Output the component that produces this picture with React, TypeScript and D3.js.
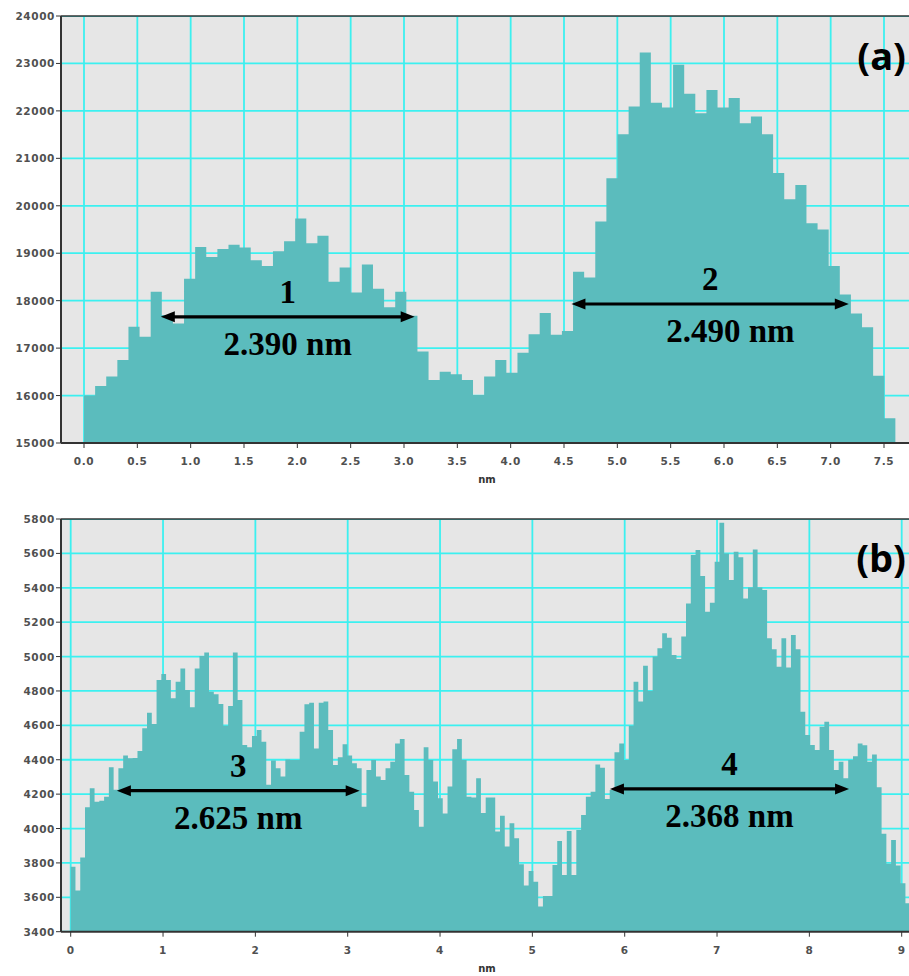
import React from "react";
import * as d3 from "d3";

// (a) line profile, one value per bin of STEP_A nm
const STEP_A = 0.1042;
const profileA = [
  16000, 16200, 16400, 16750, 17450, 17240, 18190, 17700, 17520, 18460,
  19130, 18920, 19090, 19180, 19120, 18850, 18730, 19040, 19250, 19730,
  19210, 19370, 18400, 18700, 18170, 18760, 18250, 17860, 18190, 17680,
  16930, 16330, 16500, 16450, 16330, 16010, 16400, 16750, 16480, 16900,
  17290, 17740, 17280, 17360, 18610, 18490, 19670, 20580, 21510, 22090,
  23230, 22170, 22070, 22970, 22360, 21950, 22440, 22070, 22270, 21740,
  21880, 21510, 20690, 20140, 20440, 19630, 19500, 18730, 18130, 17730,
  17440, 16420, 15520,
];

// (b) line profile, one value per bin of STEP_B nm
const STEP_B = 0.05166;
const profileB = [
  3778, 3639, 3831, 4123, 4234, 4156, 4162, 4185, 4356, 4225,
  4350, 4424, 4408, 4410, 4451, 4583, 4674, 4608, 4864, 4899,
  4864, 4757, 4854, 4930, 4806, 4705, 4930, 5003, 5023, 4796,
  4781, 4724, 4597, 4713, 5023, 4748, 4486, 4472, 4538, 4573,
  4505, 4255, 4395, 4350, 4302, 4402, 4398, 4398, 4563, 4722,
  4732, 4466, 4732, 4738, 4573, 4370, 4414, 4490, 4424, 4379,
  4350, 4127, 4340, 4398, 4302, 4282, 4350, 4389, 4495, 4521,
  4311, 4214, 4108, 4011, 4472, 4398, 4273, 4176, 4088, 4244,
  4461, 4521, 4398, 4185, 4180, 4292, 4090, 4180, 4180, 3982,
  4075, 3895, 4030, 3943, 3792, 3668, 3753, 3691, 3546, 3608,
  3608, 3788, 3928, 3730, 3986, 3730, 3992, 4079, 4185, 4214,
  4373, 4354, 4172, 4224, 4443, 4495, 4399, 4598, 4854, 4738,
  4947, 4800, 5000, 5048, 5135, 5110, 5009, 4986, 5116, 5309,
  5590, 5619, 5468, 5261, 5313, 5551, 5778, 5600, 5445, 5610,
  5577, 5338, 5402, 5623, 5402, 5387, 5106, 5042, 4941, 5106,
  4937, 5125, 5042, 4679, 4544, 4486, 4457, 4592, 4621, 4457,
  4340, 4389, 4292, 4399, 4420, 4495, 4485, 4389, 4431, 4240,
  3970, 3795, 3933, 3785, 3682, 3565, 3507,
];

const xTicksA = [0, 0.5, 1, 1.5, 2, 2.5, 3, 3.5, 4, 4.5, 5, 5.5, 6, 6.5, 7, 7.5];
const yTicksA = [15000, 16000, 17000, 18000, 19000, 20000, 21000, 22000, 23000, 24000];
const xTicksB = [0, 1, 2, 3, 4, 5, 6, 7, 8, 9];
const yTicksB = [3400, 3600, 3800, 4000, 4200, 4400, 4600, 4800, 5000, 5200, 5400, 5600, 5800];

// measured widths: arrow from/to in nm, level in counts
const spansA = [
  { num: "1", text: "2.390 nm", from: 0.72, to: 3.1, level: 17660, shift: 0 },
  { num: "2", text: "2.490 nm", from: 4.57, to: 7.17, level: 17930, shift: 0.19 },
];
const spansB = [
  { num: "3", text: "2.625 nm", from: 0.5, to: 3.13, level: 4220, shift: 0 },
  { num: "4", text: "2.368 nm", from: 5.84, to: 8.43, level: 4230, shift: 0 },
];

const BAR = "#5bbcbd";
const GRID = "#3cf0f0";
const BG = "#e6e6e6";
const AXIS = "#333";
const LEFT = 61;
const RIGHT = 909;

function Panel(props: any) {
  const { id, values, step, xTicks, yTicks, xFmt, top, bottom, x0, x1, xMax, tag, tagY, spans } = props;
  const x = d3.scaleLinear().domain([0, xMax]).range([x0, x1]);
  const y = d3.scaleLinear().domain([yTicks[0], yTicks[yTicks.length - 1]]).range([bottom, top]);
  const head = 14;

  // step outline of the histogram, closed at the last bin edge
  const pts: [number, number][] = values.map((v: number, i: number) => [i * step, v]);
  pts.push([values.length * step, values[values.length - 1]]);
  const area = d3.area<[number, number]>()
    .x((d) => x(d[0]))
    .y0(bottom)
    .y1((d) => y(d[1]))
    .curve(d3.curveStepAfter);

  return (
    <g>
      <defs>
        <clipPath id={id}>
          <rect x={LEFT} y={top} width={RIGHT - LEFT} height={bottom - top} />
        </clipPath>
      </defs>
      <rect x={LEFT} y={top} width={RIGHT - LEFT} height={bottom - top} fill={BG} />
      <g clipPath={`url(#${id})`}>
        {xTicks.map((t: number) => (
          <line key={"gx" + t} x1={x(t)} x2={x(t)} y1={top} y2={bottom} stroke={GRID} strokeWidth={1.8} />
        ))}
        {yTicks.map((t: number) => (
          <line key={"gy" + t} x1={LEFT} x2={RIGHT} y1={y(t)} y2={y(t)} stroke={GRID} strokeWidth={1.8} />
        ))}
        <path d={area(pts) || ""} fill={BAR} />
      </g>

      {/* frame */}
      <line x1={LEFT} x2={RIGHT} y1={top} y2={top} stroke={AXIS} strokeWidth={1.5} />
      <line x1={LEFT} x2={LEFT} y1={top} y2={bottom} stroke={AXIS} strokeWidth={2} />
      <line x1={LEFT} x2={RIGHT} y1={bottom} y2={bottom} stroke={AXIS} strokeWidth={2} />

      {yTicks.map((t: number) => (
        <g key={"ty" + t}>
          <line x1={LEFT - 5} x2={LEFT} y1={y(t)} y2={y(t)} stroke={AXIS} strokeWidth={1} />
          <text x={LEFT - 6} y={y(t) + 4} textAnchor="end" fontFamily="DejaVu Sans" fontWeight="bold"
            fontSize={10.5} letterSpacing={0.6} fill="#505050">{t}</text>
        </g>
      ))}
      {xTicks.map((t: number) => (
        <g key={"tx" + t}>
          <line x1={x(t)} x2={x(t)} y1={bottom} y2={bottom + 5} stroke={AXIS} strokeWidth={1} />
          <text x={x(t)} y={bottom + 22} textAnchor="middle" fontFamily="DejaVu Sans" fontWeight="bold"
            fontSize={10.5} letterSpacing={0.6} fill="#505050">{xFmt(t)}</text>
        </g>
      ))}
      <text x={(LEFT + RIGHT) / 2 + 2} y={bottom + 40} textAnchor="middle" fontFamily="DejaVu Sans"
        fontWeight="bold" fontSize={10} fill="#333">nm</text>

      {spans.map((s: any) => {
        const ya = y(s.level);
        const xa = x(s.from);
        const xb = x(s.to);
        const mid = (xa + xb) / 2;
        return (
          <g key={s.num}>
            <line x1={xa + head - 2} x2={xb - head + 2} y1={ya} y2={ya} stroke="#000" strokeWidth={3.2} />
            <path d={`M${xa},${ya} L${xa + head},${ya - 5.5} L${xa + head},${ya + 5.5} Z`} fill="#000" />
            <path d={`M${xb},${ya} L${xb - head},${ya - 5.5} L${xb - head},${ya + 5.5} Z`} fill="#000" />
            <text x={mid} y={ya - 14} textAnchor="middle" fontFamily="Liberation Serif" fontWeight="bold"
              fontSize={33} fill="#000">{s.num}</text>
            <text x={mid + (x(s.shift) - x(0))} y={ya + 38} textAnchor="middle" fontFamily="Liberation Serif"
              fontWeight="bold" fontSize={33} fill="#000">{s.text}</text>
          </g>
        );
      })}

      <text x={906} y={tagY} textAnchor="end" fontFamily="Open Sans" fontWeight="bold" fontSize={38} fill="#000">
        {tag}
      </text>
    </g>
  );
}

export default function App() {
  return (
    <svg width={909} height={976} style={{ position: "absolute", left: 0, top: 0, background: "#fff" }}>
      <Panel id="clipA" values={profileA} step={STEP_A} xTicks={xTicksA} yTicks={yTicksA}
        xFmt={d3.format(".1f")} top={16} bottom={443} x0={84} x1={884} xMax={7.5}
        tag="(a)" tagY={70} spans={spansA} />
      <Panel id="clipB" values={profileB} step={STEP_B} xTicks={xTicksB} yTicks={yTicksB}
        xFmt={d3.format("d")} top={519} bottom={931.7} x0={70.7} x1={901.7} xMax={9}
        tag="(b)" tagY={572} spans={spansB} />
    </svg>
  );
}
